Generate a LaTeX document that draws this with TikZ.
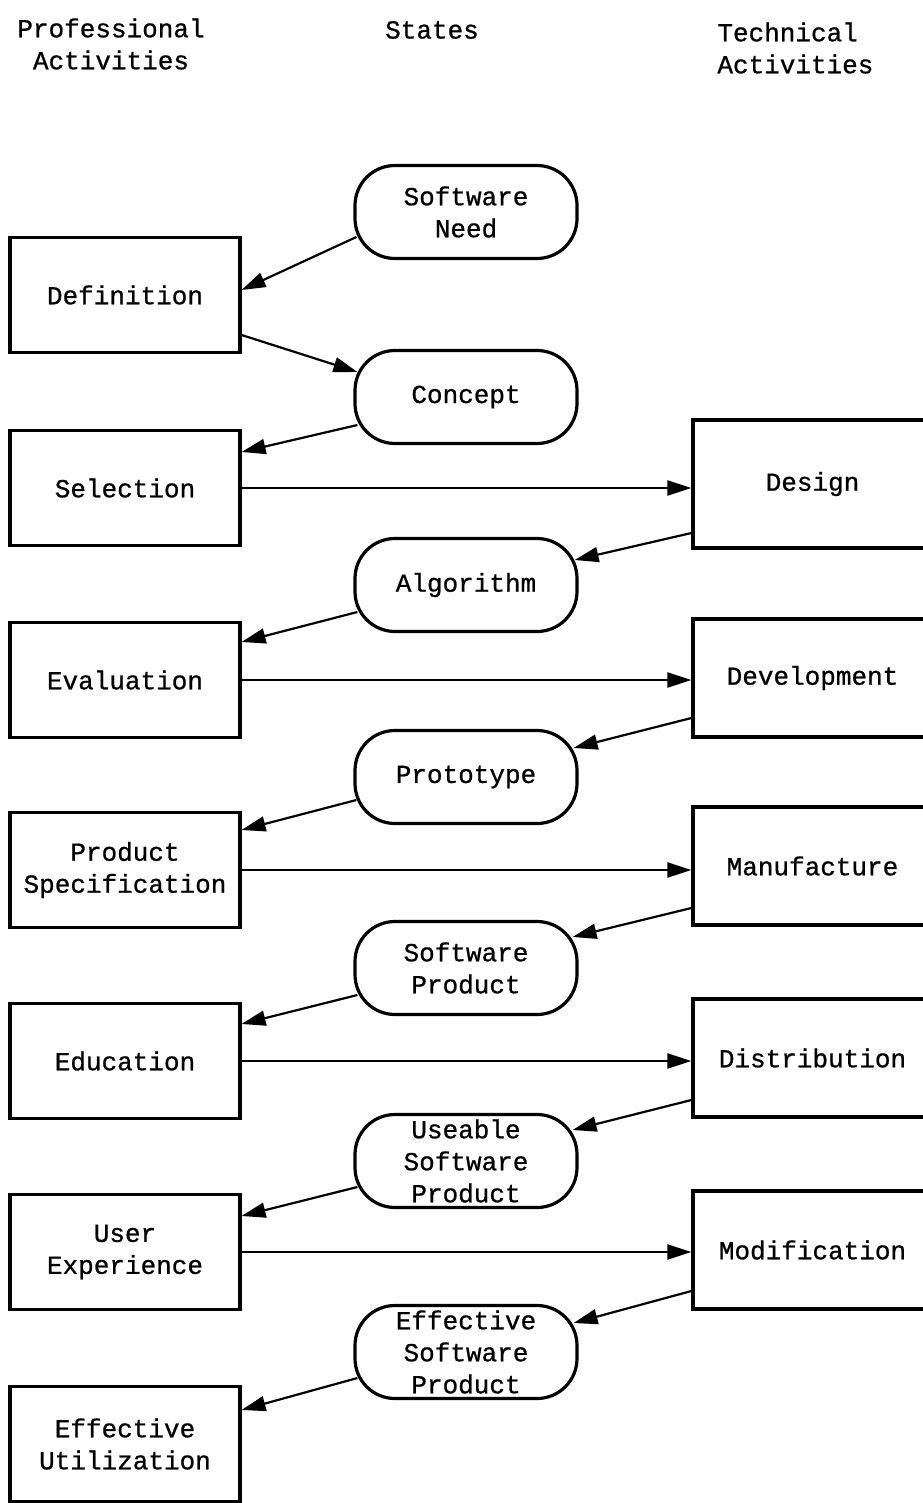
\documentclass[tikz,border=0pt]{standalone}
\usepackage{fontspec}
\setmainfont[FakeBold=0.8]{Liberation Mono}
\usetikzlibrary{arrows.meta}

\begin{document}
\begin{tikzpicture}[x=0.5pt,y=-0.5pt]
            \tikzstyle{activity}=[rectangle, draw=black, line width=1.6pt, minimum width=115pt, minimum height=57.5pt, align=center, inner sep=2pt, font=\fontsize{13}{16}\selectfont]
            \tikzstyle{technical}=[activity, minimum width=119.5pt, minimum height=59pt]
            \tikzstyle{state}=[rectangle, rounded corners=20pt, draw=black, line width=1.6pt, minimum width=111pt, minimum height=46.5pt, align=center, inner sep=0pt, font=\fontsize{13}{16}\selectfont]
            \tikzstyle{heading}=[align=center, inner sep=2pt, font=\fontsize{13}{16}\selectfont]
            \tikzstyle{connect}=[line width=1.1pt, -{Triangle[length=12pt,width=7.5pt]}]
            \useasboundingbox (0,0) rectangle (922,1503);
            % column headings
            \node[heading] (hp) at (111,44) {Professional\\Activities};
            \node[heading] (hs) at (432,30) {States};
            \node[heading, align=left, anchor=west] (ht) at (713,48) {Technical\\Activities};
            % professional activities
            \node[activity] (Def) at (125,295) {Definition};
            \node[activity] (Sel) at (125,488) {Selection};
            \node[activity] (Eva) at (125,680) {Evaluation};
            \node[activity] (Spec) at (125,870) {Product\\Specification};
            \node[activity] (Edu) at (125,1061) {Education};
            \node[activity] (UX) at (125,1252) {User\\Experience};
            \node[activity] (Util) at (125,1444) {Effective\\Utilization};
            % states
            \node[state] (SN) at (466,212) {Software\\Need};
            \node[state] (Con) at (466,397) {Concept};
            \node[state] (Alg) at (466,585) {Algorithm};
            \node[state] (Pro) at (466,777) {Prototype};
            \node[state] (SP) at (466,968) {Software\\Product};
            \node[state] (USP) at (466,1161) {Useable\\Software\\Product};
            \node[state] (ESP) at (466,1352) {Effective\\Software\\Product};
            % technical activities
            \node[technical, minimum height=64pt] (Des) at (812.5,484) {Design};
            \node[technical] (Dev) at (812.5,678) {Development};
            \node[technical] (Man) at (812.5,866) {Manufacture};
            \node[technical] (Dis) at (812.5,1058) {Distribution};
            \node[technical] (Mod) at (812.5,1250) {Modification};
            % connectors
            \path ([xshift=1.5pt,yshift=-12.5pt]SN.west) edge [connect] ([yshift=2.5pt]Def.east);
            \path ([yshift=-20pt]Def.east) edge [connect] ([xshift=2pt,yshift=12.5pt]Con.west);
            \path ([xshift=2pt,yshift=-14pt]Con.west) edge [connect] ([yshift=18pt]Sel.east);
            \path (Sel.east) edge [connect] (Sel.east -| Des.west);
            \path ([yshift=-24.5pt]Des.west) edge [connect] ([xshift=-2pt,yshift=12.5pt]Alg.east);
            \path ([xshift=2pt,yshift=-13.5pt]Alg.west) edge [connect] ([yshift=19pt]Eva.east);
            \path (Eva.east) edge [connect] (Eva.east -| Dev.west);
            \path ([yshift=-20pt]Dev.west) edge [connect] ([xshift=-2.5pt,yshift=14.5pt]Pro.east);
            \path ([xshift=1.5pt,yshift=-11.5pt]Pro.west) edge [connect] ([yshift=20pt]Spec.east);
            \path (Spec.east) edge [connect] (Spec.east -| Man.west);
            \path ([yshift=-21pt]Man.west) edge [connect] ([xshift=-3pt,yshift=15.5pt]SP.east);
            \path ([xshift=2pt,yshift=-13.5pt]SP.west) edge [connect] ([yshift=18.5pt]Edu.east);
            \path (Edu.east) edge [connect] (Edu.east -| Dis.west);
            \path ([yshift=-21pt]Dis.west) edge [connect] ([xshift=-3pt,yshift=15.5pt]USP.east);
            \path ([xshift=2pt,yshift=-13pt]USP.west) edge [connect] ([yshift=18pt]UX.east);
            \path (UX.east) edge [connect] (UX.east -| Mod.west);
            \path ([yshift=-20.5pt]Mod.west) edge [connect] ([xshift=-2.5pt,yshift=14.5pt]ESP.east);
            \path ([xshift=2pt,yshift=-13pt]ESP.west) edge [connect] ([yshift=17pt]Util.east);
        \end{tikzpicture}
\end{document}
